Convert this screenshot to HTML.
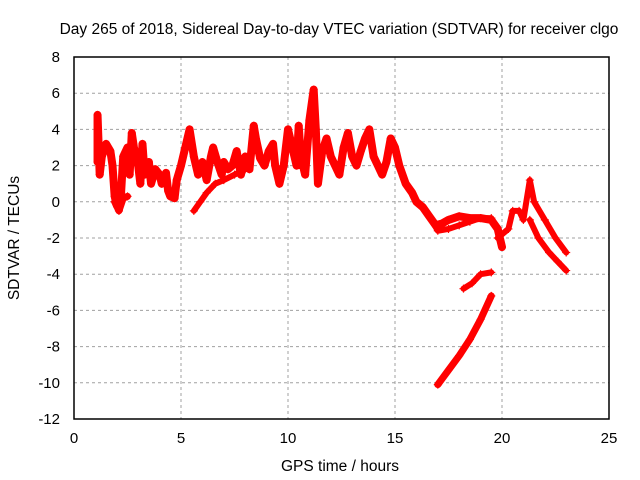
<!DOCTYPE html>
<html><head><meta charset="utf-8"><style>
body{margin:0;background:#fff}
svg{display:block;font-family:"Liberation Sans",sans-serif}
</style></head><body>
<svg id="chart" width="640" height="480">
<text x="339" y="34" text-anchor="middle" font-size="15.5" fill="#000">Day 265 of 2018, Sidereal Day-to-day VTEC variation (SDTVAR) for receiver clgo</text>
<text x="340" y="471" text-anchor="middle" font-size="15.5" fill="#000">GPS time / hours</text>
<text transform="translate(19,238) rotate(-90)" text-anchor="middle" font-size="15.5" fill="#000">SDTVAR / TECUs</text>
<g id="grid"></g><g id="ticks"></g><g id="marks"></g>
<rect x="74" y="57" width="535" height="362" fill="none" stroke="#000" stroke-width="1.5"/>
</svg>
<script>
const xTicks=[0,5,10,15,20,25];
const yTicks=[8,6,4,2,0,-2,-4,-6,-8,-10,-12];
const mainT=[1.1,1.1,1.2,1.3,1.5,1.7,1.8,1.9,2.0,2.2,2.3,2.5,2.6,2.7,2.8,3.0,3.1,3.2,3.3,3.5,3.6,3.8,4.0,4.1,4.3,4.4,4.5,4.7,4.8,5.0,5.2,5.4,5.6,5.8,6.0,6.2,6.4,6.5,6.7,6.9,7.0,7.2,7.4,7.6,7.8,8.0,8.2,8.4,8.5,8.7,8.9,9.1,9.3,9.4,9.6,9.8,10.0,10.2,10.4,10.5,10.6,10.8,11.0,11.2,11.3,11.4,11.6,11.8,12.0,12.2,12.4,12.6,12.8,13.0,13.2,13.4,13.6,13.8,14.0,14.2,14.4,14.6,14.8,15.0,15.2,15.5,15.8,16.0,16.3,16.6,16.9,17.2,17.5,18.0,18.5,19.0,19.5,19.8,20.0];
const mainV=[2.2,4.8,1.5,2.5,3.2,2.8,2.0,0.3,-0.2,0.5,2.5,3.0,1.5,3.8,3.0,2.0,1.0,3.2,1.5,2.2,1.0,1.8,1.5,1.0,1.6,0.6,0.3,0.2,1.2,2.0,3.0,4.0,2.5,1.5,2.2,1.2,2.5,3.0,2.2,1.5,2.2,1.8,2.0,2.8,1.5,2.5,1.8,4.2,3.5,2.4,2.0,2.8,3.2,2.0,1.0,2.0,4.0,3.0,2.0,4.2,2.5,1.5,4.5,6.2,4.0,1.0,2.8,3.5,2.5,2.0,1.5,3.0,3.8,2.5,2.0,2.8,3.5,4.0,2.5,2.0,1.5,2.2,3.5,3.0,2.0,1.0,0.5,0.0,-0.3,-0.8,-1.3,-1.2,-1.0,-0.8,-0.9,-0.9,-1.0,-1.5,-2.5];
const dipT=[1.9,2.1,2.3,2.5];
const dipV=[0.0,-0.5,0.2,0.3];
const riseT=[5.6,5.9,6.2,6.6,7.0,7.5,8.0];
const riseV=[-0.5,0.0,0.5,1.0,1.2,1.5,1.8];
const lowT=[16.6,17.0,17.5,18.0,18.5,19.0,19.5];
const lowV=[-0.8,-1.6,-1.5,-1.3,-1.1,-0.9,-0.9];
const r1T=[19.8,20.3,20.5,20.8,21.0,21.3,21.5,22.0,22.5,23.0];
const r1V=[-2.0,-1.5,-0.5,-0.5,-1.0,1.2,0.0,-1.0,-2.0,-2.8];
const r2T=[21.3,21.7,22.2,22.6,23.0];
const r2V=[-1.0,-2.0,-2.8,-3.3,-3.8];
const bT=[18.2,18.6,19.0,19.5];
const bV=[-4.8,-4.5,-4.0,-3.9];
const cT=[17.0,17.5,18.0,18.5,19.0,19.5];
const cV=[-10.1,-9.3,-8.5,-7.6,-6.5,-5.2];

const NS='http://www.w3.org/2000/svg';
const X=t=>74+t*535/25;
const Y=v=>57+(8-v)*362/20;
function mk(tag,attrs,parent){const e=document.createElementNS(NS,tag);for(const k in attrs)e.setAttribute(k,attrs[k]);parent.appendChild(e);return e;}
const grid=document.getElementById('grid'),ticks=document.getElementById('ticks'),marks=document.getElementById('marks');
xTicks.forEach(t=>{
  if(t>0&&t<25){const g=mk('line',{x1:X(t),x2:X(t),y1:57,y2:419,stroke:'#a0a0a0','stroke-dasharray':'3,3'},grid);
  
  }
  const l=mk('text',{x:X(t),y:443,'text-anchor':'middle','font-size':15},ticks);l.textContent=t;
  
  
});
yTicks.forEach(v=>{
  if(v<8&&v>-12){const g=mk('line',{x1:74,x2:609,y1:Y(v),y2:Y(v),stroke:'#a0a0a0','stroke-dasharray':'3,3'},grid);
  
  }
  const l=mk('text',{x:60,y:Y(v)+5,'text-anchor':'end','font-size':15},ticks);l.textContent=v;
  
  
});
function series(T,V,name,w){
  const g=mk('g',{},marks);
  
  
  mk('polyline',{points:T.map((t,i)=>X(t)+','+Y(V[i])).join(' '),fill:'none',stroke:'#f00','stroke-width':w,'stroke-linejoin':'round','stroke-linecap':'round'},g);
  T.forEach((t,i)=>{const x=X(t),y=Y(V[i]);
    const p=mk('path',{d:`M${x-4},${y}h8M${x},${y-4}v8`,stroke:'#f00','stroke-width':1.2},g);
    
    
  });
}
series(mainT,mainV,'main-series',8);
series(dipT,dipV,'dip-series',7);
series(riseT,riseV,'rise-series',6);
series(lowT,lowV,'low-series',6);
series(r1T,r1V,'right-upper-series',6);
series(r2T,r2V,'right-lower-series',6);
series(bT,bV,'branch-b-series',6);
series(cT,cV,'branch-c-series',7);
</script>
</body></html>
